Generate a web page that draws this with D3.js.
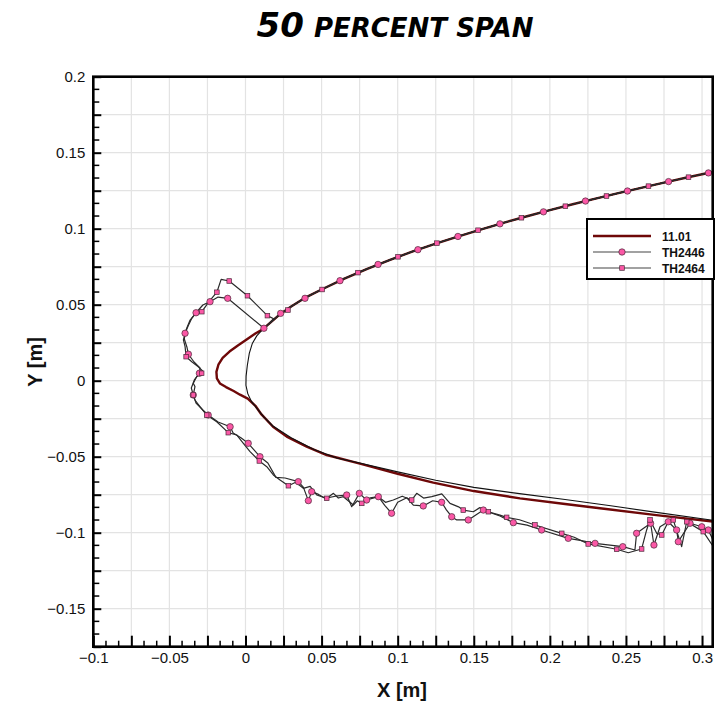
<!DOCTYPE html>
<html>
<head>
<meta charset="utf-8">
<script src="https://cdn.jsdelivr.net/npm/d3@7"></script>
<style>
  body { margin: 0; background: #fff; }
  svg { display: block; }
</style>
</head>
<body>
<svg id="chart" width="727" height="702"></svg>
<script>
// ---- data (metres) ----
const xTickLabels = [-0.1, -0.05, 0, 0.05, 0.1, 0.15, 0.2, 0.25, 0.3];
const yTickLabels = [-0.15, -0.1, -0.05, 0, 0.05, 0.1, 0.15, 0.2];
const seriesNames = ["11.01", "TH2446", "TH2464"];

// suction side of the blade section, trailing part towards the nose
const upperSurface = [
  [0.307, 0.1373], [0.29, 0.1337], [0.275, 0.1303], [0.26, 0.1269], [0.245, 0.1234],
  [0.23, 0.1198], [0.215, 0.1161], [0.2, 0.1122], [0.185, 0.1082], [0.17, 0.1040],
  [0.155, 0.0996], [0.14, 0.0950], [0.125, 0.0902], [0.11, 0.0851], [0.095, 0.0795],
  [0.08, 0.0736], [0.065, 0.0672], [0.05, 0.0600], [0.04, 0.0550], [0.03, 0.0488],
  [0.022, 0.0432], [0.015, 0.0370]
];

// clean section: nose and pressure side
const cleanNoseLower = [
  [0.011, 0.0335], [0.0074, 0.0295], [0.0045, 0.0245], [0.0025, 0.018], [0.0012, 0.010],
  [0.0004, 0.003], [0.0003, -0.003], [0.0015, -0.0085], [0.004, -0.0138], [0.0075, -0.0182],
  [0.012, -0.0238], [0.018, -0.0298], [0.03, -0.0375], [0.045, -0.0452], [0.06, -0.0508],
  [0.075, -0.0542], [0.1, -0.0600], [0.125, -0.0655], [0.15, -0.0702], [0.18, -0.0743],
  [0.21, -0.0782], [0.24, -0.0823], [0.27, -0.0866], [0.307, -0.0918]
];

// case 11.01: nose and pressure side
const case1101NoseLower = [
  [0.011, 0.0336], [0.0065, 0.031], [0.001, 0.0272], [-0.005, 0.0232], [-0.0105, 0.0192],
  [-0.015, 0.015], [-0.0178, 0.0105], [-0.0191, 0.0058], [-0.0188, 0.0015], [-0.0168, -0.0018],
  [-0.0128, -0.0042], [-0.0078, -0.0068], [-0.0036, -0.0092], [0.0015, -0.0118], [0.0065, -0.0165],
  [0.0105, -0.0222], [0.0181, -0.0303], [0.0271, -0.0368], [0.0402, -0.0434], [0.0534, -0.0489],
  [0.0752, -0.0545], [0.1, -0.0612], [0.1234, -0.0671], [0.15, -0.0726], [0.1804, -0.0774],
  [0.21, -0.0811], [0.2329, -0.0839], [0.27, -0.0884], [0.307, -0.0926]
];

// TH2446 ice outline from the suction-side horn round to the pressure side
const th2446Ice = [
  [0.0121, 0.0345], [-0.0117, 0.0542], [-0.018, 0.055], [-0.0233, 0.052], [-0.028, 0.0498],
  [-0.0325, 0.0447], [-0.0352, 0.0412], [-0.0377, 0.036], [-0.0397, 0.0312], [-0.0402, 0.0274],
  [-0.0385, 0.0222], [-0.0375, 0.0174], [-0.0338, 0.0123], [-0.0299, 0.0084], [-0.0303, 0.0049],
  [-0.0336, 0.0005], [-0.0356, -0.0048], [-0.0343, -0.0094], [-0.0325, -0.0147], [-0.028, -0.0193],
  [-0.0245, -0.0226], [-0.018, -0.0272], [-0.0101, -0.0303], [-0.0081, -0.0344], [-0.003, -0.0375],
  [0.0018, -0.0412], [0.0095, -0.05], [0.0147, -0.0541], [0.02, -0.0636], [0.026, -0.064],
  [0.0347, -0.0664], [0.0380, -0.0700], [0.0413, -0.0789], [0.0435, -0.073], [0.0480, -0.0748],
  [0.0522, -0.0774], [0.0590, -0.0760], [0.0665, -0.0752], [0.0698, -0.0829], [0.0748, -0.0741],
  [0.0796, -0.0785], [0.0873, -0.0763], [0.0915, -0.0820], [0.096, -0.0872], [0.1000, -0.0800],
  [0.1060, -0.0770], [0.1103, -0.0818], [0.1168, -0.0824], [0.1230, -0.0790], [0.1289, -0.08],
  [0.1320, -0.0850], [0.1355, -0.0895], [0.1388, -0.0916], [0.1464, -0.0916], [0.1563, -0.0851],
  [0.1620, -0.0872], [0.1672, -0.0890], [0.176, -0.0934], [0.1850, -0.0950], [0.1946, -0.0982],
  [0.2121, -0.1037], [0.2200, -0.1050], [0.2297, -0.107], [0.2479, -0.1092], [0.2559, -0.1114],
  [0.257, -0.1004], [0.2662, -0.0938], [0.2684, -0.1081], [0.2724, -0.0961], [0.2778, -0.0928],
  [0.2833, -0.0982], [0.2844, -0.1059], [0.2921, -0.0938], [0.2998, -0.0961], [0.3041, -0.0982],
  [0.3072, -0.1048]
];

// TH2464 ice outline from the suction-side horn round to the pressure side
const th2464Ice = [
  [0.0185, 0.0408], [0.0144, 0.0428], [0.0013, 0.0559], [-0.0107, 0.0656], [-0.0160, 0.0667],
  [-0.0188, 0.0582], [-0.0237, 0.0524], [-0.0287, 0.0454], [-0.0324, 0.0447], [-0.0364, 0.0399],
  [-0.0386, 0.0345], [-0.0397, 0.0312], [-0.0408, 0.0268], [-0.0397, 0.0224], [-0.0390, 0.0158],
  [-0.0353, 0.0125], [-0.0310, 0.0092], [-0.0277, 0.0059], [-0.0288, 0.0049], [-0.0321, 0.0026],
  [-0.0343, -0.0017], [-0.0332, -0.0039], [-0.0343, -0.0094], [-0.0332, -0.0127], [-0.0299, -0.0171],
  [-0.0255, -0.0226], [-0.0189, -0.027], [-0.0113, -0.0342], [-0.0058, -0.0357], [-0.0014, -0.0412],
  [0.003, -0.0467], [0.0091, -0.0528], [0.014, -0.0566], [0.0183, -0.062], [0.0227, -0.0653],
  [0.0282, -0.0691], [0.0330, -0.0668], [0.038, -0.0708], [0.0425, -0.0695], [0.0468, -0.0752],
  [0.0534, -0.0774], [0.0578, -0.0741], [0.0610, -0.0772], [0.0643, -0.0763], [0.0709, -0.0818],
  [0.0735, -0.0790], [0.0764, -0.0807], [0.0820, -0.0770], [0.0873, -0.0763], [0.0920, -0.0800],
  [0.0971, -0.0785], [0.1030, -0.0760], [0.1092, -0.0785], [0.1125, -0.0741], [0.1170, -0.0772],
  [0.1224, -0.0763], [0.1290, -0.0745], [0.1344, -0.0807], [0.1400, -0.0830], [0.1431, -0.0851],
  [0.1497, -0.0862], [0.1540, -0.0835], [0.1596, -0.0862], [0.1672, -0.0884], [0.1716, -0.0899],
  [0.1800, -0.0915], [0.1902, -0.0949], [0.2078, -0.1004], [0.2160, -0.1030], [0.2252, -0.1074],
  [0.2439, -0.1109], [0.2515, -0.1132], [0.2603, -0.1107], [0.2636, -0.0982], [0.2658, -0.0916],
  [0.2702, -0.1004], [0.2735, -0.1015], [0.2778, -0.0928], [0.2811, -0.0916], [0.2866, -0.1092],
  [0.2899, -0.0928], [0.3008, -0.0993], [0.3074, -0.1092]
];

// measured points carrying a symbol
const th2446Symbols = [
  [0.0231, 0.0443], [0.0391, 0.0542], [0.0621, 0.0658], [0.0871, 0.0765], [0.1133, 0.0862],
  [0.1396, 0.0949], [0.1672, 0.1032], [0.1958, 0.1111], [0.2234, 0.1182], [0.251, 0.1248],
  [0.278, 0.1310], [0.3042, 0.1367],
  [0.0121, 0.0345], [-0.0117, 0.0542], [-0.0233, 0.052], [-0.0325, 0.0447], [-0.0397, 0.0312],
  [-0.0375, 0.0174], [-0.0303, 0.0049], [-0.0343, -0.0094], [-0.0245, -0.0226], [-0.0101, -0.0303],
  [0.0018, -0.0412], [0.0095, -0.05], [0.0347, -0.0664], [0.0413, -0.0789], [0.0435, -0.073],
  [0.0665, -0.0752], [0.0748, -0.0741], [0.0796, -0.0785], [0.0873, -0.0763], [0.096, -0.0872],
  [0.1168, -0.0824], [0.1289, -0.08], [0.1355, -0.0895], [0.1464, -0.0916], [0.1563, -0.0851],
  [0.176, -0.0934], [0.1946, -0.0982], [0.2121, -0.1037], [0.2297, -0.107], [0.2479, -0.1092],
  [0.257, -0.1004], [0.2662, -0.0938], [0.2684, -0.1081], [0.2778, -0.0928], [0.2833, -0.0982],
  [0.2844, -0.1059], [0.2921, -0.0938], [0.2998, -0.0961], [0.3041, -0.0982]
];
const th2464Symbols = [
  [0.0279, 0.0465], [0.0503, 0.0600], [0.0739, 0.0711], [0.1002, 0.0815], [0.1258, 0.0905],
  [0.1528, 0.0990], [0.1813, 0.1072], [0.2102, 0.1148], [0.2372, 0.1215], [0.2648, 0.1280],
  [0.2911, 0.1339],
  [0.0144, 0.0428], [0.0013, 0.0559], [-0.0107, 0.0656], [-0.0188, 0.0582], [-0.0287, 0.0454],
  [-0.0390, 0.0158], [-0.0288, 0.0049], [-0.0343, -0.0094], [-0.0255, -0.0226], [-0.0113, -0.0342],
  [0.0091, -0.0528], [0.0282, -0.0691], [0.0534, -0.0774], [0.0764, -0.0807], [0.1092, -0.0785],
  [0.1431, -0.0851], [0.1596, -0.0862], [0.1716, -0.0899], [0.1902, -0.0949], [0.2078, -0.1004],
  [0.2252, -0.1074], [0.2439, -0.1109], [0.2603, -0.1107], [0.2658, -0.0916], [0.2735, -0.1015],
  [0.2811, -0.0916], [0.2899, -0.0928], [0.3008, -0.0993]
];

// ---- assembled curves ----
const cleanSection = upperSurface.concat(cleanNoseLower);
const case1101 = upperSurface.concat(case1101NoseLower);
const th2446 = upperSurface.concat(th2446Ice);
const th2464 = upperSurface.concat(th2464Ice);

// ---- layout ----
const svg = d3.select("#chart");
const frame = { left: 93.3, right: 712.7, top: 76.7, bottom: 646.7 };
const x = d3.scaleLinear().domain([-0.1, 0.307]).range([frame.left, frame.right]);
const y = d3.scaleLinear().domain([-0.175, 0.2]).range([frame.bottom, frame.top]);

const step = 0.025;
const xMajor = d3.range(0, 17).map(i => +(-0.1 + i * step).toFixed(4)).filter(v => v <= 0.307);
const yMajor = d3.range(0, 16).map(i => +(-0.175 + i * step).toFixed(4)).filter(v => v <= 0.2001);
const xMinor = [];
xMajor.forEach(v => { [1, 2].forEach(k => { const m = v + k * step / 3; if (m < 0.307) xMinor.push(m); }); });
const yMinor = [];
yMajor.forEach(v => { [1, 2].forEach(k => { const m = v + k * step / 3; if (m < 0.2) yMinor.push(m); }); });

const fmt = v => {
  const s = d3.format("~g")(+v.toFixed(3));
  return s === "-0" ? "0" : s;
};
const isLabelled = (v, list) => list.some(t => Math.abs(t - v) < 1e-6);

// grid
const grid = svg.append("g").attr("stroke", "#e3e3e3").attr("stroke-width", 1.2);
grid.selectAll("line.gx").data(xMajor.filter(v => v > -0.1 + 1e-6)).join("line")
  .attr("x1", d => x(d)).attr("x2", d => x(d)).attr("y1", frame.top).attr("y2", frame.bottom);
grid.selectAll("line.gy").data(yMajor.filter(v => v > -0.175 + 1e-6 && v < 0.2 - 1e-6)).join("line")
  .attr("y1", d => y(d)).attr("y2", d => y(d)).attr("x1", frame.left).attr("x2", frame.right);

// clipped plotting area
svg.append("clipPath").attr("id", "plotClip").append("rect")
  .attr("x", frame.left).attr("y", frame.top)
  .attr("width", frame.right - frame.left).attr("height", frame.bottom - frame.top);
const plot = svg.append("g").attr("clip-path", "url(#plotClip)");

const line = d3.line().x(d => x(d[0])).y(d => y(d[1]));

plot.append("path").datum(case1101).attr("d", line)
  .attr("fill", "none").attr("stroke", "#6e0808").attr("stroke-width", 2.4).attr("stroke-linejoin", "round");
plot.append("path").datum(cleanSection).attr("d", line)
  .attr("fill", "none").attr("stroke", "#111").attr("stroke-width", 1.1);
plot.append("path").datum(th2446).attr("d", line)
  .attr("fill", "none").attr("stroke", "#2a2a2a").attr("stroke-width", 1.2).attr("stroke-linejoin", "round");
plot.append("path").datum(th2464).attr("d", line)
  .attr("fill", "none").attr("stroke", "#2a2a2a").attr("stroke-width", 1.2).attr("stroke-linejoin", "round");

const pink = "#fb58a6", symStroke = "#4a2a3a";
plot.selectAll("circle.s2446").data(th2446Symbols).join("circle")
  .attr("cx", d => x(d[0])).attr("cy", d => y(d[1])).attr("r", 3.2)
  .attr("fill", pink).attr("stroke", symStroke).attr("stroke-width", 0.7);
plot.selectAll("rect.s2464").data(th2464Symbols).join("rect")
  .attr("x", d => x(d[0]) - 2.3).attr("y", d => y(d[1]) - 2.3).attr("width", 4.6).attr("height", 4.6)
  .attr("fill", pink).attr("stroke", symStroke).attr("stroke-width", 0.7);

// axes (ticks point into the plot)
const font = "'Liberation Sans', Arial, Helvetica, sans-serif";
const xAxis = svg.append("g").attr("transform", `translate(0,${frame.bottom})`)
  .call(d3.axisBottom(x).tickValues(xMajor).tickSizeInner(-11).tickSizeOuter(0).tickPadding(6)
    .tickFormat(v => isLabelled(v, xTickLabels) ? fmt(v) : ""));
xAxis.selectAll(".tick line").attr("stroke", "#000").attr("stroke-width", 2);
xAxis.select(".domain").remove();
xAxis.selectAll("text").attr("font-family", font).attr("font-size", 15).attr("fill", "#111");
xAxis.selectAll(".minor").data(xMinor).join("line").attr("class", "minor")
  .attr("x1", d => x(d)).attr("x2", d => x(d)).attr("y1", 0).attr("y2", -6)
  .attr("stroke", "#000").attr("stroke-width", 1.5);

const yAxis = svg.append("g").attr("transform", `translate(${frame.left},0)`)
  .call(d3.axisLeft(y).tickValues(yMajor).tickSizeInner(-8).tickSizeOuter(0).tickPadding(8)
    .tickFormat(v => isLabelled(v, yTickLabels) ? fmt(v) : ""));
yAxis.selectAll(".tick line").attr("stroke", "#000").attr("stroke-width", 2);
yAxis.select(".domain").remove();
yAxis.selectAll("text").attr("font-family", font).attr("font-size", 15).attr("fill", "#111");
yAxis.selectAll(".minor").data(yMinor).join("line").attr("class", "minor")
  .attr("y1", d => y(d)).attr("y2", d => y(d)).attr("x1", 0).attr("x2", 6)
  .attr("stroke", "#000").attr("stroke-width", 1.5);

// frame
svg.append("rect").attr("x", frame.left).attr("y", frame.top)
  .attr("width", frame.right - frame.left).attr("height", frame.bottom - frame.top)
  .attr("fill", "none").attr("stroke", "#000").attr("stroke-width", 2.6);

// axis titles
svg.append("text").attr("x", 402).attr("y", 697).attr("text-anchor", "middle")
  .attr("font-family", font).attr("font-weight", "bold").attr("font-size", 20).attr("fill", "#111")
  .text("X [m]");
svg.append("text").attr("transform", "translate(42,362) rotate(-90)").attr("text-anchor", "middle")
  .attr("font-family", font).attr("font-weight", "bold").attr("font-size", 20).attr("fill", "#111")
  .text("Y [m]");

// title
const title = svg.append("text").attr("x", 395).attr("y", 37).attr("text-anchor", "middle")
  .attr("font-family", "'DejaVu Sans', sans-serif").attr("font-weight", "bold")
  .attr("font-style", "italic").attr("fill", "#000");
title.append("tspan").attr("font-size", 34).text("50");
title.append("tspan").attr("font-size", 26).attr("dx", 10).text("PERCENT SPAN");

// legend
const lg = svg.append("g").attr("transform", "translate(587,219)");
lg.append("rect").attr("width", 127).attr("height", 60)
  .attr("fill", "#fff").attr("stroke", "#000").attr("stroke-width", 2);
const legendStyles = [
  { stroke: "#6e0808", width: 2.6, symbol: null },
  { stroke: "#444", width: 1.1, symbol: "circle" },
  { stroke: "#444", width: 1.1, symbol: "square" }
];
seriesNames.forEach((name, i) => {
  const st = legendStyles[i];
  const row = lg.append("g").attr("transform", `translate(0,${17 + i * 16})`);
  row.append("line").attr("x1", 6).attr("x2", 64).attr("stroke", st.stroke).attr("stroke-width", st.width);
  if (st.symbol === "circle") {
    row.append("circle").attr("cx", 35).attr("r", 3.2).attr("fill", pink).attr("stroke", symStroke).attr("stroke-width", 0.7);
  } else if (st.symbol === "square") {
    row.append("rect").attr("x", 32.7).attr("y", -2.3).attr("width", 4.6).attr("height", 4.6)
      .attr("fill", pink).attr("stroke", symStroke).attr("stroke-width", 0.7);
  }
  row.append("text").attr("x", 75).attr("y", 4.5).attr("font-family", font)
    .attr("font-weight", "bold").attr("font-size", 12).attr("fill", "#111").text(name);
});
</script>
</body>
</html>
